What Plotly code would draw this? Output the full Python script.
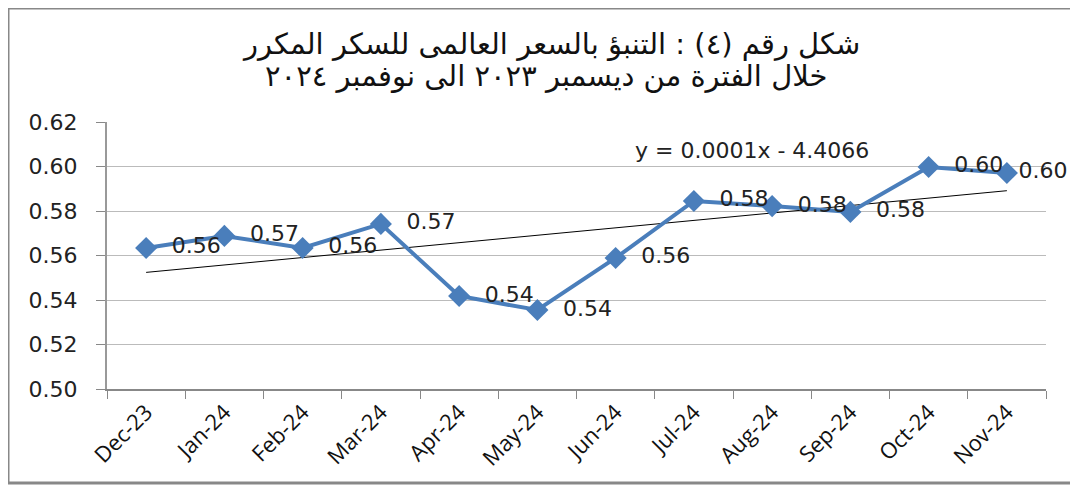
import numpy as np
import plotly.graph_objects as go

months = ["Dec-23", "Jan-24", "Feb-24", "Mar-24", "Apr-24", "May-24",
          "Jun-24", "Jul-24", "Aug-24", "Sep-24", "Oct-24", "Nov-24"]
prices = [0.5634, 0.5688, 0.5634, 0.5742, 0.5418, 0.5355,
          0.5589, 0.5845, 0.5822, 0.5796, 0.5998, 0.5971]
y_ticks = [0.50, 0.52, 0.54, 0.56, 0.58, 0.60, 0.62]
title_lines = ["شكل رقم (٤) : التنبؤ بالسعر العالمى للسكر المكرر",
               "خلال الفترة من ديسمبر ٢٠٢٣ الى نوفمبر ٢٠٢٤"]
equation = "y = 0.0001x - 4.4066"

OFF = 8  # page body margin in the written html
W, H = 1078 - OFF, 485 - OFF
L, R, T, B = 107 - OFF, 32, 122 - OFF, 96
pw, ph = W - L - R, H - T - B

idx = np.arange(len(prices))
slope, intercept = np.polyfit(idx, prices, 1)
trend = slope * idx + intercept

# label text: the last label sits closer to its point, as in the reference
labels = [("  " if i < len(prices) - 1 else "") + f"{v:.2f}" for i, v in enumerate(prices)]

fig = go.Figure()
fig.add_trace(go.Scatter(
    x=months, y=trend, mode="lines",
    line=dict(color="black", width=1), hoverinfo="skip", showlegend=False))
fig.add_trace(go.Scatter(
    x=months, y=prices, mode="lines+markers+text",
    line=dict(color="#4A7EBB", width=4),
    marker=dict(symbol="diamond", size=17, color="#4A7EBB"),
    text=labels, textposition="middle right",
    textfont=dict(family="DejaVu Sans", size=22, color="#222222"),
    cliponaxis=False, showlegend=False))

def px_x(p):
    return (p - OFF - L) / pw

def px_y(p):
    return (H - B - (p - OFF)) / ph

fig.add_annotation(
    x=px_x(752), y=px_y(150), xref="paper", yref="paper",
    text=equation, showarrow=False, xanchor="center", yanchor="middle",
    font=dict(family="DejaVu Sans", size=22, color="#222222"))

for line, cx, cy in zip(title_lines, [551, 546], [45, 76]):
    fig.add_annotation(
        x=px_x(cx), y=px_y(cy), xref="paper", yref="paper",
        text=line, showarrow=False, xanchor="center", yanchor="middle",
        font=dict(family="DejaVu Sans, Liberation Sans", size=29, color="#111111"))

fig.add_shape(type="rect", xref="paper", yref="paper",
              x0=px_x(8), x1=px_x(1078 + 5), y0=px_y(483), y1=px_y(8),
              line=dict(color="#888888", width=3), layer="below")

fig.update_layout(
    width=W, height=H,
    margin=dict(l=L, r=R, t=T, b=B),
    paper_bgcolor="white", plot_bgcolor="white",
    xaxis=dict(type="category", range=[-0.5, 11.5], tickson="boundaries",
               ticks="outside", ticklen=8, tickcolor="#888888",
               showline=True, linecolor="#888888", linewidth=1.5,
               showgrid=False, tickangle=-45, automargin=False,
               tickfont=dict(family="Open Sans", size=22, color="#111111")),
    yaxis=dict(range=[0.50, 0.62], tickvals=y_ticks, tickformat=".2f",
               ticks="outside", ticklen=9, tickcolor="#888888",
               showline=True, linecolor="#999999", linewidth=2,
               showgrid=True, gridcolor="#BBBBBB", gridwidth=1.2,
               zeroline=False, ticklabelstandoff=14, automargin=False,
               tickfont=dict(family="DejaVu Sans", size=22, color="#222222")),
)

fig.write_html("out.html")
